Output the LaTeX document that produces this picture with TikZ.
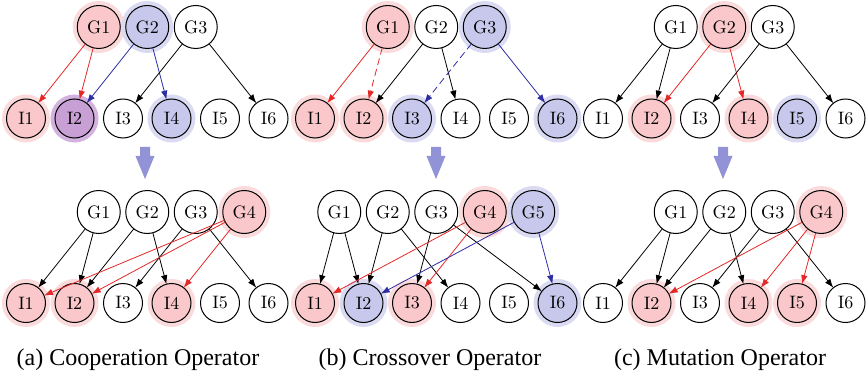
\documentclass[tikz,border=0pt]{standalone}
\usepackage{fontspec}
\newfontfamily\capfont{Liberation Serif}
\newfontfamily\lmten{lmroman10-regular}[Extension=.otf]
\usetikzlibrary{arrows.meta}
\definecolor{pinkfill}{RGB}{250,200,202}
\definecolor{pinkhalo}{RGB}{251,218,220}
\definecolor{bluefill}{RGB}{200,200,236}
\definecolor{bluehalo}{RGB}{218,218,243}
\definecolor{purpfill}{RGB}{200,160,214}
\definecolor{purphalo}{RGB}{212,178,224}
\definecolor{edgered}{RGB}{228,40,40}
\definecolor{edgeblue}{RGB}{45,45,165}
\definecolor{opcolor}{RGB}{146,146,214}
\tikzset{
  basenode/.style={circle, draw=black, line width=1pt, inner sep=0pt, outer sep=0pt,
    font=\lmten\fontsize{18}{18}\selectfont},
  gnode/.style={basenode, minimum size=43pt},
  inode/.style={basenode, minimum size=39pt},
  pinkn/.style={fill=pinkfill, preaction={draw=pinkhalo, line width=9pt}},
  bluen/.style={fill=bluefill, preaction={draw=bluehalo, line width=9pt}},
  purpn/.style={fill=purpfill, preaction={draw=purphalo, line width=9pt}},
  blackarr/.style={-{Latex[length=9pt,width=6.5pt]}, line width=0.8pt, draw=black},
  redarr/.style={blackarr, draw=edgered},
  bluearr/.style={blackarr, draw=edgeblue},
  dsh/.style={dash pattern=on 7pt off 4pt},
  caption/.style={font=\capfont\fontsize{24}{26}\selectfont, anchor=base},
}
\newcommand\opArrow[1]{%
  \fill[opcolor] (#1-5,147) -- (#1+5,147) -- (#1+5,156) -- (#1+9.5,156) --
    (#1,179) -- (#1-9.5,156) -- (#1-5,156) -- cycle;}
\begin{document}
\begin{tikzpicture}[x=1pt,y=-1pt]
\useasboundingbox (0,0) rectangle (866,374);

% ---------------- Panel (a) ----------------
\begin{scope}
  % top
  \node[gnode,pinkn] (aTG1) at (98.75,27) {G1};
  \node[gnode,bluen] (aTG2) at (147.25,27) {G2};
  \node[gnode] (aTG3) at (195.75,27) {G3};
  \node[inode,pinkn] (aTI1) at (26,118.5) {I1};
  \node[inode,purpn] (aTI2) at (74.5,118.5) {I2};
  \node[inode] (aTI3) at (123,118.5) {I3};
  \node[inode,bluen] (aTI4) at (171.5,118.5) {I4};
  \node[inode] (aTI5) at (220,118.5) {I5};
  \node[inode] (aTI6) at (268.5,118.5) {I6};
  \draw[redarr] (aTG1) -- (aTI1);
  \draw[redarr] (aTG1) -- (aTI2);
  \draw[bluearr] (aTG2) -- (aTI2);
  \draw[bluearr] (aTG2) -- (aTI4);
  \draw[blackarr] (aTG3) -- (aTI3);
  \draw[blackarr] (aTG3) -- (aTI6);
  \opArrow{145}
  % bottom
  \node[gnode] (aBG1) at (98.75,212) {G1};
  \node[gnode] (aBG2) at (147.25,212) {G2};
  \node[gnode] (aBG3) at (195.75,212) {G3};
  \node[gnode,pinkn] (aBG4) at (244.25,212) {G4};
  \node[inode,pinkn] (aBI1) at (26,303) {I1};
  \node[inode,pinkn] (aBI2) at (74.5,303) {I2};
  \node[inode] (aBI3) at (123,303) {I3};
  \node[inode,pinkn] (aBI4) at (171.5,303) {I4};
  \node[inode] (aBI5) at (220,303) {I5};
  \node[inode] (aBI6) at (268.5,303) {I6};
  \draw[blackarr] (aBG1) -- (aBI1);
  \draw[blackarr] (aBG1) -- (aBI2);
  \draw[blackarr] (aBG2) -- (aBI2);
  \draw[blackarr] (aBG2) -- (aBI4);
  \draw[blackarr] (aBG3) -- (aBI3);
  \draw[blackarr] (aBG3) -- (aBI6);
  \draw[redarr] (aBG4) -- (aBI1);
  \draw[redarr] (aBG4) -- (aBI2);
  \draw[redarr] (aBG4) -- (aBI4);
  \node[caption] (capa) at (138,365) {(a) Cooperation Operator};
\end{scope}

% ---------------- Panel (b) ----------------
\begin{scope}[xshift=289pt]
  \node[gnode,pinkn] (bTG1) at (98.75,27) {G1};
  \node[gnode] (bTG2) at (147.25,27) {G2};
  \node[gnode,bluen] (bTG3) at (195.75,27) {G3};
  \node[inode,pinkn] (bTI1) at (26,118.5) {I1};
  \node[inode,pinkn] (bTI2) at (74.5,118.5) {I2};
  \node[inode,bluen] (bTI3) at (123,118.5) {I3};
  \node[inode] (bTI4) at (171.5,118.5) {I4};
  \node[inode] (bTI5) at (220,118.5) {I5};
  \node[inode,bluen] (bTI6) at (268.5,118.5) {I6};
  \draw[redarr] (bTG1) -- (bTI1);
  \draw[redarr,dsh] (bTG1) -- (bTI2);
  \draw[blackarr] (bTG2) -- (bTI2);
  \draw[blackarr] (bTG2) -- (bTI4);
  \draw[bluearr,dsh] (bTG3) -- (bTI3);
  \draw[bluearr] (bTG3) -- (bTI6);
  \opArrow{147}
  \node[gnode] (bBG1) at (50.25,212) {G1};
  \node[gnode] (bBG2) at (98.75,212) {G2};
  \node[gnode] (bBG3) at (147.25,212) {G3};
  \node[gnode,pinkn] (bBG4) at (195.75,212) {G4};
  \node[gnode,bluen] (bBG5) at (244.25,212) {G5};
  \node[inode,pinkn] (bBI1) at (26,303) {I1};
  \node[inode,bluen] (bBI2) at (74.5,303) {I2};
  \node[inode,pinkn] (bBI3) at (123,303) {I3};
  \node[inode] (bBI4) at (171.5,303) {I4};
  \node[inode] (bBI5) at (220,303) {I5};
  \node[inode,bluen] (bBI6) at (268.5,303) {I6};
  \draw[blackarr] (bBG1) -- (bBI1);
  \draw[blackarr] (bBG1) -- (bBI2);
  \draw[blackarr] (bBG2) -- (bBI2);
  \draw[blackarr] (bBG2) -- (bBI4);
  \draw[blackarr] (bBG3) -- (bBI3);
  \draw[blackarr] (bBG3) -- (bBI6);
  \draw[redarr] (bBG4) -- (bBI1);
  \draw[redarr] (bBG4) -- (bBI3);
  \draw[bluearr] (bBG5) -- (bBI2);
  \draw[bluearr] (bBG5) -- (bBI6);
  \node[caption] (capb) at (141,365) {(b) Crossover Operator};
\end{scope}

% ---------------- Panel (c) ----------------
\begin{scope}[xshift=577pt]
  \node[gnode] (cTG1) at (98.75,27) {G1};
  \node[gnode,pinkn] (cTG2) at (147.25,27) {G2};
  \node[gnode] (cTG3) at (195.75,27) {G3};
  \node[inode] (cTI1) at (26,118.5) {I1};
  \node[inode,pinkn] (cTI2) at (74.5,118.5) {I2};
  \node[inode] (cTI3) at (123,118.5) {I3};
  \node[inode,pinkn] (cTI4) at (171.5,118.5) {I4};
  \node[inode,bluen] (cTI5) at (220,118.5) {I5};
  \node[inode] (cTI6) at (268.5,118.5) {I6};
  \draw[blackarr] (cTG1) -- (cTI1);
  \draw[blackarr] (cTG1) -- (cTI2);
  \draw[redarr] (cTG2) -- (cTI2);
  \draw[redarr] (cTG2) -- (cTI4);
  \draw[blackarr] (cTG3) -- (cTI3);
  \draw[blackarr] (cTG3) -- (cTI6);
  \opArrow{146}
  \node[gnode] (cBG1) at (98.75,212) {G1};
  \node[gnode] (cBG2) at (147.25,212) {G2};
  \node[gnode] (cBG3) at (195.75,212) {G3};
  \node[gnode,pinkn] (cBG4) at (244.25,212) {G4};
  \node[inode] (cBI1) at (26,303) {I1};
  \node[inode,pinkn] (cBI2) at (74.5,303) {I2};
  \node[inode] (cBI3) at (123,303) {I3};
  \node[inode,pinkn] (cBI4) at (171.5,303) {I4};
  \node[inode,pinkn] (cBI5) at (220,303) {I5};
  \node[inode] (cBI6) at (268.5,303) {I6};
  \draw[blackarr] (cBG1) -- (cBI1);
  \draw[blackarr] (cBG1) -- (cBI2);
  \draw[blackarr] (cBG2) -- (cBI2);
  \draw[blackarr] (cBG2) -- (cBI4);
  \draw[blackarr] (cBG3) -- (cBI3);
  \draw[blackarr] (cBG3) -- (cBI6);
  \draw[redarr] (cBG4) -- (cBI2);
  \draw[redarr] (cBG4) -- (cBI4);
  \draw[redarr] (cBG4) -- (cBI5);
  \node[caption] (capc) at (143,365) {(c) Mutation Operator};
\end{scope}
\end{tikzpicture}
\end{document}
